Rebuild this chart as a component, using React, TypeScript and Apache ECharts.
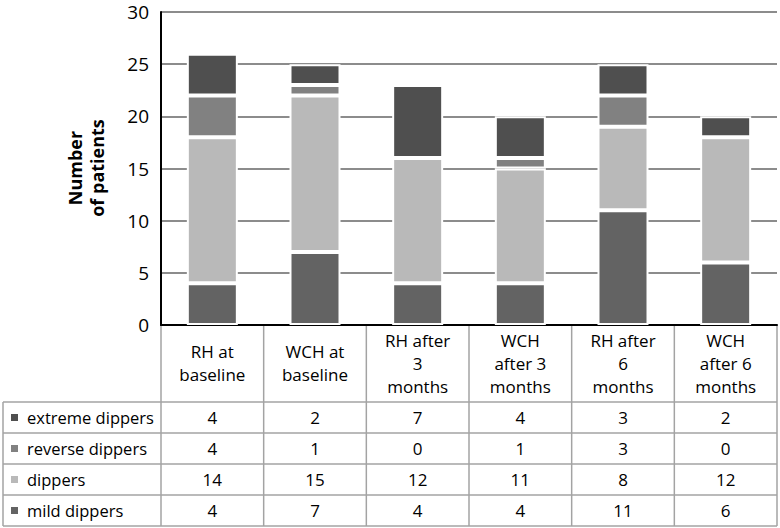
import React, { useEffect, useRef } from "react";
import * as echarts from "echarts";

const categories = [
  "RH at\nbaseline",
  "WCH at\nbaseline",
  "RH after\n3\nmonths",
  "WCH\nafter 3\nmonths",
  "RH after\n6\nmonths",
  "WCH\nafter 6\nmonths",
];
const seriesNames = ["extreme dippers", "reverse dippers", "dippers", "mild dippers"];
const extremeDippers = [4, 2, 7, 4, 3, 2];
const reverseDippers = [4, 1, 0, 1, 3, 0];
const dippers = [14, 15, 12, 11, 8, 12];
const mildDippers = [4, 7, 4, 4, 11, 6];
const seriesColors = ["#4f4f4f", "#818181", "#b9b9b9", "#636363"];
const yTicks = [0, 5, 10, 15, 20, 25, 30];

const FONT = "'Open Sans', 'Liberation Sans', sans-serif";

export default function App() {
  const ref = useRef<HTMLDivElement>(null);
  useEffect(() => {
    if (!ref.current) return;
    const chart = echarts.init(ref.current, null, { renderer: "svg" });
    const W = 780;
    const left = 161;
    const right = 777;
    const top = 12;
    const axisY = 325;
    const headerBottom = 402;
    const rowH = 31;
    const tableLeft = 3;
    const colW = (right - left) / categories.length;
    const lineColor = "#a3a3a3";
    const rows = [extremeDippers, reverseDippers, dippers, mildDippers];

    const graphics: any[] = [];
    const tableBottom = headerBottom + rowH * rows.length;
    for (let r = 0; r <= rows.length; r++) {
      const y = headerBottom + r * rowH;
      graphics.push({
        type: "line",
        shape: { x1: tableLeft, y1: y, x2: right, y2: y },
        style: { stroke: lineColor, lineWidth: 1.5 },
      });
    }
    graphics.push({
      type: "line",
      shape: { x1: tableLeft, y1: headerBottom, x2: tableLeft, y2: tableBottom },
      style: { stroke: lineColor, lineWidth: 1.5 },
    });
    for (let c = 0; c <= categories.length; c++) {
      const x = left + c * colW;
      graphics.push({
        type: "line",
        shape: { x1: x, y1: axisY, x2: x, y2: tableBottom },
        style: { stroke: lineColor, lineWidth: 1.5 },
      });
    }
    rows.forEach((vals, r) => {
      const cy = headerBottom + r * rowH + rowH / 2;
      graphics.push({
        type: "rect",
        shape: { x: 11, y: cy - 3.5, width: 7, height: 7 },
        style: { fill: seriesColors[r] },
      });
      graphics.push({
        type: "text",
        x: 27,
        y: cy,
        style: {
          text: seriesNames[r],
          font: `16.5px ${FONT}`,
          fill: "#000",
          textAlign: "left",
          textVerticalAlign: "middle",
        },
      });
      vals.forEach((v, c) => {
        graphics.push({
          type: "text",
          x: left + (c + 0.5) * colW,
          y: cy,
          style: {
            text: String(v),
            font: `17px ${FONT}`,
            fill: "#000",
            textAlign: "center",
            textVerticalAlign: "middle",
          },
        });
      });
    });
    graphics.push({
      type: "text",
      x: 86,
      y: 168,
      rotation: Math.PI / 2,
      style: {
        text: "Number\nof patients",
        font: `bold 18px ${FONT}`,
        fill: "#000",
        textAlign: "center",
        textVerticalAlign: "middle",
        lineHeight: 22,
      },
    });

    const stackOrder = [3, 2, 1, 0];
    const series = stackOrder.map((i) => ({
      name: seriesNames[i],
      type: "bar",
      stack: "total",
      data: rows[i],
      barWidth: 51,
      itemStyle: { color: seriesColors[i], borderColor: "#ffffff", borderWidth: 2 },
      emphasis: { disabled: true },
    }));

    chart.setOption({
      animation: false,
      grid: { left, right: W - right, top, bottom: 528 - axisY, containLabel: false },
      xAxis: {
        type: "category",
        data: categories,
        axisLine: { show: true, lineStyle: { color: "#000", width: 2 } },
        axisTick: { show: false },
        axisLabel: {
          interval: 0,
          margin: 38,
          verticalAlign: "middle",
          lineHeight: 23,
          fontSize: 17,
          fontFamily: FONT,
          color: "#000",
          align: "center",
        },
        splitLine: { show: false },
      },
      yAxis: {
        type: "value",
        min: yTicks[0],
        max: yTicks[yTicks.length - 1],
        interval: 5,
        axisLine: { show: true, lineStyle: { color: "#000", width: 2 } },
        axisTick: { show: false },
        axisLabel: { fontSize: 19, lineHeight: 19, fontFamily: FONT, color: "#000", margin: 12 },
        splitLine: { show: true, lineStyle: { color: "#8c8c8c", width: 2 } },
      },
      series,
      graphic: graphics,
    });
    return () => chart.dispose();
  }, []);
  return (
    <div
      ref={ref}
      style={{ position: "fixed", left: 0, top: 0, width: 780, height: 528, background: "#fff" }}
    />
  );
}
